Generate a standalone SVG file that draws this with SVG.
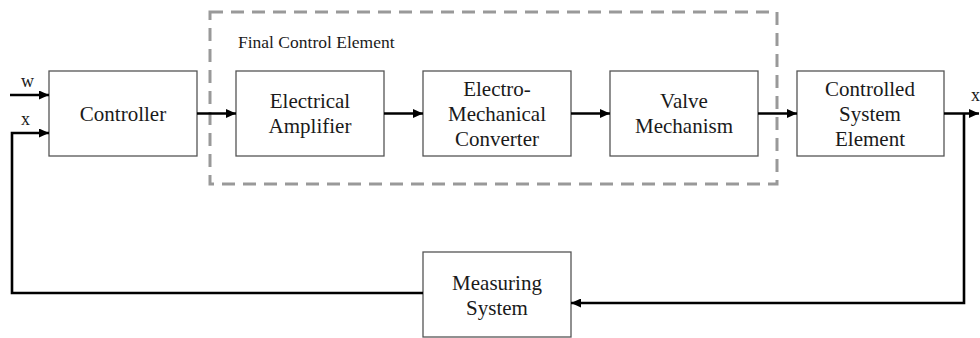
<svg xmlns="http://www.w3.org/2000/svg" width="980" height="338" viewBox="0 0 980 338">
  <style>
    .box { fill: #ffffff; stroke: #555555; stroke-width: 1.3; }
    .wire { fill: none; stroke: #000000; stroke-width: 2.6; }
    .group { fill: none; stroke: #999999; stroke-width: 3; stroke-dasharray: 13 8; }
  </style>
  <defs>
    <marker id="arrow" markerUnits="userSpaceOnUse" markerWidth="11" markerHeight="9" refX="10" refY="4.5" orient="auto">
      <path d="M0,0 L10,4.5 L0,9 z" fill="#000000"/>
    </marker>
  </defs>

  <rect width="980" height="338" fill="#ffffff"/>

  <!-- dashed boundary of the final control element -->
  <g id="final-control-element" font-family="'Liberation Serif', 'Times New Roman', serif" fill="#1a1a1a">
    <rect class="group" x="210" y="12" width="567" height="172"/>
    <text x="238" y="48" font-size="17.5">Final Control Element</text>
  </g>

  <g font-family="'Liberation Serif', 'Times New Roman', serif" font-size="21" text-anchor="middle">
    <g id="controller">
      <rect class="box" x="49" y="71" width="148" height="85"/>
      <text x="123" y="121" fill="#1a1a1a">Controller</text>
    </g>

    <g id="electrical-amplifier">
      <rect class="box" x="236" y="71" width="148" height="85"/>
      <text x="310" y="108" fill="#1a1a1a">Electrical</text>
      <text x="310" y="133" fill="#1a1a1a">Amplifier</text>
    </g>

    <g id="electro-mechanical-converter">
      <rect class="box" x="423" y="71" width="148" height="85"/>
      <text x="497" y="96" fill="#1a1a1a">Electro-</text>
      <text x="497" y="121" fill="#1a1a1a">Mechanical</text>
      <text x="497" y="146" fill="#1a1a1a">Converter</text>
    </g>

    <g id="valve-mechanism">
      <rect class="box" x="610" y="71" width="148" height="85"/>
      <text x="684" y="108" fill="#1a1a1a">Valve</text>
      <text x="684" y="133" fill="#1a1a1a">Mechanism</text>
    </g>

    <g id="controlled-system-element">
      <rect class="box" x="797" y="71" width="147" height="85"/>
      <text x="870" y="96" fill="#1a1a1a">Controlled</text>
      <text x="870" y="121" fill="#1a1a1a">System</text>
      <text x="870" y="146" fill="#1a1a1a">Element</text>
    </g>

    <g id="measuring-system">
      <rect class="box" x="423" y="252" width="148" height="85"/>
      <text x="497" y="290" fill="#1a1a1a">Measuring</text>
      <text x="497" y="315" fill="#1a1a1a">System</text>
    </g>
  </g>

  <!-- signal paths -->
  <g id="connectors">
    <path class="wire" d="M10,95 H49" marker-end="url(#arrow)"/>
    <path class="wire" d="M423,293 H12 V133 H49" marker-end="url(#arrow)"/>
    <path class="wire" d="M197,113.5 H236" marker-end="url(#arrow)"/>
    <path class="wire" d="M384,113.5 H423" marker-end="url(#arrow)"/>
    <path class="wire" d="M571,113.5 H610" marker-end="url(#arrow)"/>
    <path class="wire" d="M758,113.5 H797" marker-end="url(#arrow)"/>
    <path class="wire" d="M944,113.5 H979" marker-end="url(#arrow)"/>
    <path class="wire" d="M964,113.5 V303 H571" marker-end="url(#arrow)"/>
  </g>

  <!-- signal names -->
  <g id="signal-labels" font-family="'Liberation Serif', 'Times New Roman', serif" font-size="18" fill="#1a1a1a">
    <text x="21" y="87">w</text>
    <text x="21" y="125">x</text>
    <text x="971" y="101">x</text>
  </g>
</svg>
